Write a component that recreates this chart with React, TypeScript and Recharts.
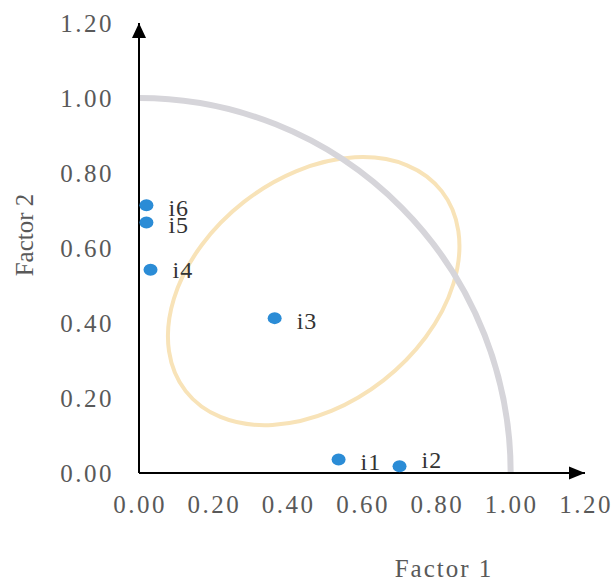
import {
  ReferenceArea,
  ReferenceDot,
  Scatter,
  ScatterChart,
  XAxis,
  YAxis,
  Label,
} from "recharts";

const itemNames = ["i1", "i2", "i3", "i4", "i5", "i6"];
const factor1 = [0.537, 0.701, 0.365, 0.031, 0.02, 0.02];
const factor2 = [0.036, 0.018, 0.413, 0.542, 0.668, 0.714];
const axisTicks = [0, 0.2, 0.4, 0.6, 0.8, 1.0, 1.2];

// unit circle (quarter) and the confidence ellipse, in data units
const circleRadius = 1;
const ellipseCenter = [0.47, 0.485];
const ellipseSemiAxes = [0.437, 0.302];
const ellipseAngle = 38;

const colors = {
  dot: "#2B8CD6",
  ellipse: "#F8E3B8",
  circle: "#D6D5DA",
  tick: "#595959",
  label: "#333333",
};

const font = '"Liberation Serif", "Times New Roman", serif';

// label baseline offsets (px) where the data label sits differently
const labelDy: Record<string, number> = { i2: 2, i4: 8 };

const points = itemNames.map((name, i) => ({
  name,
  x: factor1[i],
  y: factor2[i],
}));

const XTick = (props: any) => {
  const { x, y, payload } = props;
  return (
    <text
      x={x + 1}
      y={y + 40}
      textAnchor="middle"
      fill={colors.tick}
      fontSize={25}
      fontFamily={font}
      letterSpacing={2.5}
    >
      {Number(payload.value).toFixed(2)}
    </text>
  );
};

const YTick = (props: any) => {
  const { x, y, payload } = props;
  return (
    <text
      x={x - 25}
      y={y + 8.5}
      textAnchor="end"
      fill={colors.tick}
      fontSize={25}
      fontFamily={font}
      letterSpacing={2.5}
    >
      {Number(payload.value).toFixed(2)}
    </text>
  );
};

const PointShape = (props: any) => {
  const { cx, cy, payload } = props;
  const dy = labelDy[payload.name] ?? 10.5;
  return (
    <g>
      <ellipse cx={cx} cy={cy} rx={7} ry={6} fill={colors.dot} />
      <text
        x={cx + 22}
        y={cy + dy}
        fill={colors.label}
        fontSize={24}
        fontFamily={font}
        letterSpacing={1}
      >
        {payload.name}
      </text>
    </g>
  );
};

const ArcShape = (props: any) => {
  const { x, y, width, height } = props;
  return (
    <path
      d={`M ${x} ${y} A ${width} ${height} 0 0 1 ${x + width} ${y + height}`}
      fill="none"
      stroke={colors.circle}
      strokeWidth={6}
    />
  );
};

const EllipseShape = (props: any) => {
  const { x, y, width, height } = props;
  const cx = x + width / 2;
  const cy = y + height / 2;
  return (
    <ellipse
      cx={cx}
      cy={cy}
      rx={Math.abs(width) / 2}
      ry={Math.abs(height) / 2}
      fill="none"
      stroke={colors.ellipse}
      strokeWidth={4}
      transform={`rotate(${-ellipseAngle} ${cx} ${cy})`}
    />
  );
};

const XArrow = (props: any) => {
  const { cx, cy } = props;
  return (
    <polygon
      points={`${cx},${cy} ${cx - 16},${cy - 6.5} ${cx - 16},${cy + 6.5}`}
      fill="#000"
    />
  );
};

const YArrow = (props: any) => {
  const { cx, cy } = props;
  return (
    <polygon
      points={`${cx},${cy} ${cx - 7},${cy + 15} ${cx + 7},${cy + 15}`}
      fill="#000"
    />
  );
};

export default function App() {
  return (
    <div style={{ position: "absolute", left: 0, top: 0 }}>
      <ScatterChart
        width={612}
        height={582}
        margin={{ top: 23, right: 27, bottom: 49, left: 39 }}
      >
        <XAxis
          type="number"
          dataKey="x"
          domain={[0, 1.2]}
          ticks={axisTicks}
          tick={<XTick />}
          tickLine={false}
          tickSize={0}
          tickMargin={0}
          height={60}
          axisLine={{ stroke: "#000", strokeWidth: 2 }}
          interval={0}
        >
          <Label
            content={(p: any) => {
              const vb = p.viewBox;
              return (
                <text
                  x={vb.x + 305}
                  y={vb.y + 104}
                  textAnchor="middle"
                  fill={colors.tick}
                  fontSize={25}
                  fontFamily={font}
                  letterSpacing={2}
                >
                  Factor 1
                </text>
              );
            }}
          />
        </XAxis>
        <YAxis
          type="number"
          dataKey="y"
          domain={[0, 1.2]}
          ticks={axisTicks}
          tick={<YTick />}
          tickLine={false}
          tickSize={0}
          tickMargin={0}
          width={100}
          axisLine={{ stroke: "#000", strokeWidth: 2 }}
          interval={0}
        >
          <Label
            content={() => (
              <text
                x={33}
                y={235}
                textAnchor="middle"
                fill={colors.tick}
                fontSize={25}
                fontFamily={font}
                transform="rotate(-90 33 235)"
              >
                Factor 2
              </text>
            )}
          />
        </YAxis>
        <ReferenceArea
          x1={ellipseCenter[0] - ellipseSemiAxes[0]}
          x2={ellipseCenter[0] + ellipseSemiAxes[0]}
          y1={ellipseCenter[1] - ellipseSemiAxes[1]}
          y2={ellipseCenter[1] + ellipseSemiAxes[1]}
          ifOverflow="visible"
          shape={<EllipseShape />}
        />
        <ReferenceArea
          x1={0}
          x2={circleRadius}
          y1={0}
          y2={circleRadius}
          ifOverflow="visible"
          shape={<ArcShape />}
        />
        <ReferenceDot x={1.2} y={0} ifOverflow="visible" shape={<XArrow />} />
        <ReferenceDot x={0} y={1.2} ifOverflow="visible" shape={<YArrow />} />
        <Scatter
          data={points}
          shape={<PointShape />}
          isAnimationActive={false}
        />
      </ScatterChart>
    </div>
  );
}
